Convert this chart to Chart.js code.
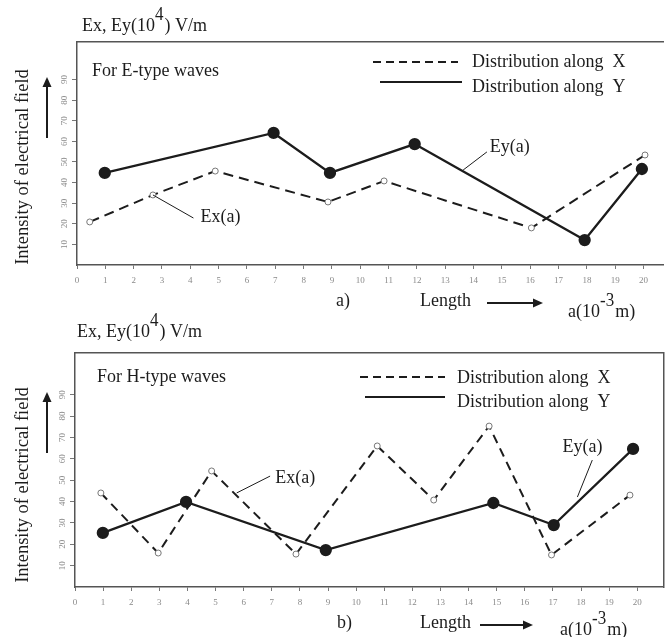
<!DOCTYPE html>
<html>
<head>
<meta charset="utf-8">
<title>Intensity of electrical field</title>
<script src="https://cdn.jsdelivr.net/npm/chart.js@4.4.0/dist/chart.umd.min.js"></script>
<style>
  html, body { margin: 0; padding: 0; background: #fff; }
  body { width: 671px; height: 637px; position: relative; overflow: hidden; }
  canvas { position: absolute; left: 0; }
  /* the two canvases overlap a little; both are transparent */
  #chartE { top: 0; }
  #chartH { top: 310px; }
</style>
</head>
<body>
<canvas id="chartE" width="671" height="326"></canvas>
<canvas id="chartH" width="671" height="327"></canvas>
<script>
// ── Data ────────────────────────────────────────────────────
const xTickValues = [0, 1, 2, 3, 4, 5, 6, 7, 8, 9, 10, 11, 12, 13, 14, 15, 16, 17, 18, 19, 20];
const yTickValues = [10, 20, 30, 40, 50, 60, 70, 80, 90];

// a) E-type waves
const eExX = [0.45, 2.68, 4.88, 8.86, 10.84, 16.04, 20.05];
const eExY = [20.9, 34.0, 45.6, 30.6, 40.8, 18.0, 53.4];
const eEyX = [0.98, 6.94, 8.93, 11.92, 17.92, 19.94];
const eEyY = [44.7, 64.1, 44.7, 58.7, 12.1, 46.6];

// b) H-type waves
const hExX = [0.92, 2.96, 4.86, 7.86, 10.75, 12.76, 14.73, 16.95, 19.74];
const hExY = [44.0, 15.9, 54.3, 15.4, 66.0, 40.7, 75.3, 15.0, 43.0];
const hEyX = [0.99, 3.95, 8.92, 14.88, 17.03, 19.85];
const hEyY = [25.3, 39.8, 17.3, 39.3, 29.0, 64.6];

const legendX = 'Distribution along  X';
const legendY = 'Distribution along  Y';

// ── Style ───────────────────────────────────────────────────
const INK = '#1c1c1c';
const AXIS = '#555';
const TICK_TXT = '#8a8a8a';
const STRETCH = 1.1; // the scan is a little taller than wide

const serif = size => `${size}px "Liberation Serif", "Times New Roman", serif`;
const toPoints = (xs, ys) => xs.map((x, i) => ({ x, y: ys[i] }));

// ── Canvas drawing helpers ──────────────────────────────────
function putText(ctx, parts, x, y, size) {
  // parts: plain strings, or [text] for a superscript
  ctx.save();
  ctx.translate(x, y);
  ctx.scale(1, STRETCH);
  ctx.fillStyle = INK;
  ctx.textBaseline = 'alphabetic';
  ctx.textAlign = 'left';
  let cx = 0;
  for (const p of parts) {
    const sup = Array.isArray(p);
    const t = sup ? p[0] : p;
    ctx.font = serif(sup ? size - 1 : size);
    ctx.fillText(t, cx, sup ? -size * 0.55 : 0);
    cx += ctx.measureText(t).width + (sup ? 1 : 0);
  }
  ctx.restore();
}

function arrow(ctx, x1, y1, x2, y2) {
  const a = Math.atan2(y2 - y1, x2 - x1);
  ctx.save();
  ctx.strokeStyle = INK;
  ctx.fillStyle = INK;
  ctx.lineWidth = 2;
  ctx.beginPath();
  ctx.moveTo(x1, y1);
  ctx.lineTo(x2 - 6 * Math.cos(a), y2 - 6 * Math.sin(a));
  ctx.stroke();
  ctx.translate(x2, y2);
  ctx.rotate(a);
  ctx.beginPath();
  ctx.moveTo(0, 0);
  ctx.lineTo(-10, -4.5);
  ctx.lineTo(-10, 4.5);
  ctx.closePath();
  ctx.fill();
  ctx.restore();
}

function line(ctx, x1, y1, x2, y2, width, dash) {
  ctx.save();
  ctx.strokeStyle = INK;
  ctx.lineWidth = width;
  ctx.setLineDash(dash || []);
  ctx.beginPath();
  ctx.moveTo(x1, y1);
  ctx.lineTo(x2, y2);
  ctx.stroke();
  ctx.restore();
}

// ── Panel decorations (titles, legend, callouts) ────────────
function drawPanel(chart, p) {
  const ctx = chart.ctx;
  const sx = chart.scales.x, sy = chart.scales.y;
  const px = (x, y) => [sx.getPixelForValue(x), sy.getPixelForValue(y)];

  putText(ctx, ['Ex, Ey(10', ['4'], ') V/m'], p.title[0], p.title[1], 18);
  putText(ctx, [p.wave], p.waveAt[0], p.waveAt[1], 18);

  // legend
  p.legend.forEach(r => {
    line(ctx, r.x1, r.y, r.x2, r.y, 2, r.dash ? [8, 5] : []);
    putText(ctx, [r.text], r.tx, r.ty, 18);
  });

  // callouts, placed in data space
  p.notes.forEach(n => {
    const [a1, b1] = px(n.from[0], n.from[1]);
    const [a2, b2] = px(n.to[0], n.to[1]);
    line(ctx, a1, b1, a2, b2, 1, []);
    const [tx, ty] = px(n.at[0], n.at[1]);
    putText(ctx, [n.text], tx, ty, 18);
  });

  // rotated y title + arrow
  ctx.save();
  ctx.translate(28, p.yTitleMid);
  ctx.rotate(-Math.PI / 2);
  ctx.font = serif(18.5);
  ctx.fillStyle = INK;
  ctx.textAlign = 'center';
  ctx.textBaseline = 'alphabetic';
  ctx.fillText('Intensity of electrical field', 0, 0);
  ctx.restore();
  arrow(ctx, 47, p.yArrow[0], 47, p.yArrow[1]);

  // x caption
  putText(ctx, [p.tag], p.tagAt[0], p.tagAt[1], 18);
  putText(ctx, ['Length'], 420, p.tagAt[1], 18);
  arrow(ctx, p.lenArrow[0], p.lenArrow[2], p.lenArrow[1], p.lenArrow[2]);
  putText(ctx, ['a(10', ['-3'], 'm)'], p.unitAt[0], p.unitAt[1], 18);
}

// ── Chart factory ───────────────────────────────────────────
function makePanel(id, p) {
  const canvas = document.getElementById(id);
  const W = canvas.width, H = canvas.height;
  const b = p.box;

  const scales = {
    x: {
      type: 'linear', position: 'bottom', min: 0, max: p.xMax,
      afterBuildTicks: s => { s.ticks = xTickValues.map(v => ({ value: v })); },
      afterFit: s => { s.height = H - b.bottom; },
      ticks: { color: TICK_TXT, font: { family: 'Liberation Serif', size: 9 }, padding: 6, maxRotation: 0, autoSkip: false },
      grid: { drawOnChartArea: false, tickLength: 4, color: '#777' },
      border: { color: AXIS, width: 1.5 },
    },
    y: {
      type: 'linear', position: 'left', min: 0, max: p.yMax,
      afterBuildTicks: s => { s.ticks = yTickValues.map(v => ({ value: v })); },
      afterFit: s => { s.width = b.left; },
      ticks: { color: TICK_TXT, font: { family: 'Liberation Serif', size: 9 }, padding: 3,
               minRotation: 90, maxRotation: 90, crossAlign: 'center' },
      grid: { drawOnChartArea: false, tickLength: 5, color: '#777' },
      border: { color: AXIS, width: 1.5 },
    },
    x2: {
      type: 'linear', axis: 'x', position: 'top', display: true, min: 0, max: 1,
      afterFit: s => { s.height = b.top; },
      ticks: { display: false },
      grid: { drawOnChartArea: false, drawTicks: false, tickLength: 0 },
      border: { color: AXIS, width: 1.5 },
    },
  };
  if (b.right < W) {
    scales.y2 = {
      type: 'linear', axis: 'y', position: 'right', display: true, min: 0, max: 1,
      afterFit: s => { s.width = W - b.right; },
      ticks: { display: false },
      grid: { drawOnChartArea: false, drawTicks: false, tickLength: 0 },
      border: { color: AXIS, width: 1.5 },
    };
  }

  return new Chart(canvas, {
    type: 'line',
    data: {
      datasets: [
        {
          label: legendY, data: toPoints(p.eyX, p.eyY),
          borderColor: INK, borderWidth: 2.3, tension: 0,
          pointRadius: 5, pointBackgroundColor: INK, pointBorderColor: INK,
        },
        {
          label: legendX, data: toPoints(p.exX, p.exY),
          borderColor: INK, borderWidth: 2, borderDash: p.dash, tension: 0,
          pointRadius: 3, pointBackgroundColor: '#fff', pointBorderColor: '#777', pointBorderWidth: 1,
        },
      ],
    },
    options: {
      responsive: false,
      animation: false,
      devicePixelRatio: 1,
      layout: { padding: 0 },
      scales,
      plugins: { legend: { display: false }, tooltip: { enabled: false } },
    },
    plugins: [{ id: 'panelNotes', afterDraw: c => drawPanel(c, p) }],
  });
}

// ── Panels ──────────────────────────────────────────────────
makePanel('chartE', {
  box: { left: 77, right: 671, top: 42, bottom: 265 },
  xMax: 20.71, yMax: 108.25,
  exX: eExX, exY: eExY, eyX: eEyX, eyY: eEyY, dash: [10, 6],
  title: [82, 31], wave: 'For E-type waves', waveAt: [92, 76],
  legend: [
    { dash: true, x1: 373, x2: 458, y: 62, tx: 472, ty: 67, text: legendX },
    { dash: false, x1: 380, x2: 462, y: 82, tx: 472, ty: 92, text: legendY },
  ],
  notes: [
    { text: 'Ex(a)', at: [4.36, 20.9], from: [2.68, 34.0], to: [4.11, 22.8] },
    { text: 'Ey(a)', at: [14.57, 54.9], from: [14.47, 54.9], to: [13.63, 46.1] },
  ],
  yTitleMid: 167, yArrow: [138, 77],
  tag: 'a)', tagAt: [336, 306], lenArrow: [487, 543, 303], unitAt: [568, 317],
});

// second canvas starts at y = 310
makePanel('chartH', {
  box: { left: 75, right: 669, top: 43, bottom: 277 },
  xMax: 20.94, yMax: 109.5,
  exX: hExX, exY: hExY, eyX: hEyX, eyY: hEyY, dash: [9, 6],
  title: [77, 27], wave: 'For H-type waves', waveAt: [97, 72],
  legend: [
    { dash: true, x1: 360, x2: 445, y: 67, tx: 457, ty: 73, text: legendX },
    { dash: false, x1: 365, x2: 445, y: 87, tx: 457, ty: 97, text: legendY },
  ],
  notes: [
    { text: 'Ex(a)', at: [7.12, 48.7], from: [6.94, 51.9], to: [5.75, 44.0] },
    { text: 'Ey(a)', at: [17.34, 63.2], from: [18.40, 59.4], to: [17.87, 42.1] },
  ],
  yTitleMid: 175, yArrow: [143, 82],
  tag: 'b)', tagAt: [337, 318], lenArrow: [480, 533, 315], unitAt: [560, 325],
});
</script>
</body>
</html>
